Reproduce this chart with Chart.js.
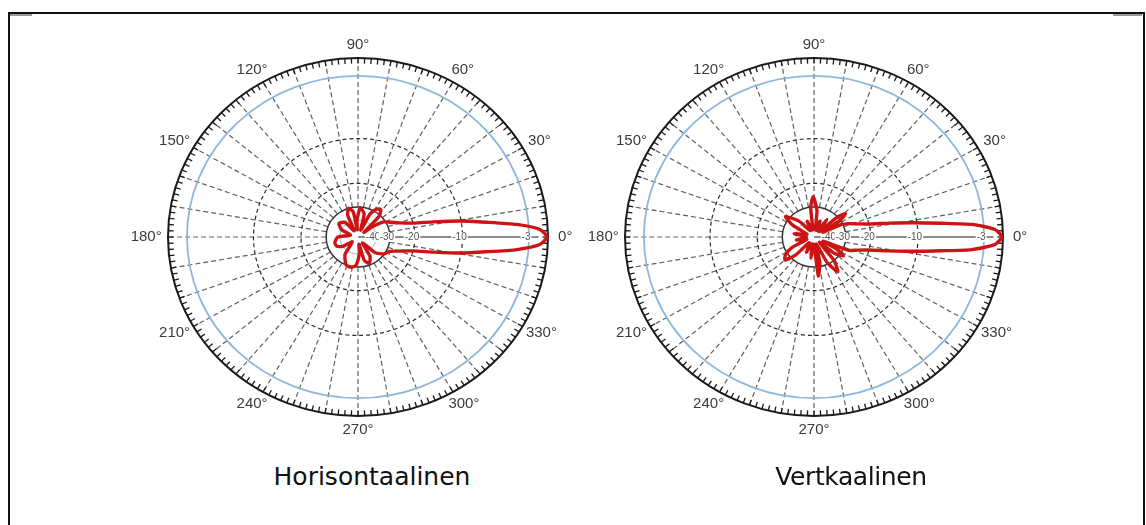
<!DOCTYPE html>
<html><head><meta charset="utf-8">
<script src="https://cdn.jsdelivr.net/npm/chart.js@4.4.1/dist/chart.umd.min.js"></script>
<style>
html,body{margin:0;padding:0;background:#fff;width:1146px;height:525px;overflow:hidden;}
body{position:relative;font-family:"DejaVu Sans",sans-serif;}
#frame{position:absolute;left:8px;top:12px;width:1133px;height:560px;border:2px solid #111;border-bottom:none;}
.corner{position:absolute;top:14px;height:2px;background:#999;}
canvas{position:absolute;}
.ttl{position:absolute;top:462px;font-size:25px;color:#111;transform:translateX(-50%);white-space:nowrap;}
</style></head><body>
<div id="frame"></div>
<div class="corner" style="left:10px;width:22px"></div>
<div class="corner" style="left:1113px;width:29px"></div>
<canvas id="c1" width="480" height="450" style="left:118px;top:12px;width:480px;height:450px"></canvas>
<canvas id="c2" width="480" height="450" style="left:574px;top:12px;width:480px;height:450px"></canvas>
<div class="ttl" style="left:372px">Horisontaalinen</div>
<div class="ttl" style="left:851px;letter-spacing:-0.4px">Vertkaalinen</div>
<script>
// ---- data ----
const chartTitles = ['Horisontaalinen', 'Vertkaalinen'];
const angleTicks = [0, 30, 60, 90, 120, 150, 180, 210, 240, 270, 300, 330];
const angleTickLabels = ['0°', '30°', '60°', '90°', '120°', '150°', '180°', '210°', '240°', '270°', '300°', '330°'];
const ringValues = [-40, -30, -20, -10, -3, 0];
const ringTickLabels = ['-40', '-30', '-20', '-10', '-3'];

// Horizontal pattern: angle (deg), level (dB)
const hAngles = [0, 2.5, 4.8, 7, 9.5, 12, 15, 20, 26, 32, 37, 40, 46, 52, 58, 64, 69, 76, 86, 93, 96, 100, 107, 114, 120, 130, 143, 155, 165, 180, 195, 205, 213, 222, 235, 248, 258, 266, 274, 278, 284, 292, 300, 306, 316, 326, 334, 340, 345, 348, 350.5, 353, 355.2, 357.5, 360];
const hDb     = [0, -1.2, -4, -7, -10.2, -15, -20, -24.5, -28, -31, -40, -55, -31, -27.5, -28.5, -33, -55, -34, -30.5, -40, -55, -33, -30, -34, -55, -38, -35, -40, -55, -38, -35, -35.5, -40, -55, -36, -30, -29.5, -31, -40, -55, -34, -31, -35, -55, -35, -30, -28.5, -24.5, -20, -15, -10.2, -7, -4, -1.2, 0];

// Vertical pattern
const vAngles = [0, 2.5, 4.8, 6.5, 8.6, 11, 14, 18, 22, 26, 30, 34, 38, 42, 47, 55, 60, 70, 78, 84, 91, 96, 100, 112, 118, 132, 143, 150, 156, 170, 178, 190, 200, 207, 214, 220, 226, 232, 245, 255, 262, 268, 276, 282, 288, 296, 303, 309, 314, 320, 326, 331, 334, 338, 342, 346, 349, 351.4, 353.5, 355.2, 357.5, 360];
const vDb     = [0, -1.2, -4, -7, -10.5, -15, -20, -24, -27, -31, -50, -30, -26, -30, -55, -36, -55, -40, -55, -32, -25, -30, -55, -40, -55, -36, -28, -35, -55, -38, -55, -40, -55, -34, -28.5, -27, -33, -55, -40, -55, -36, -55, -25.5, -32, -55, -31, -24.5, -30, -55, -33, -28, -34, -50, -27, -24, -20, -15, -10.5, -7, -4, -1.2, 0];

// radial scale: log-radius interpolated between the plotted ring levels (0 dB -> 1)
const scaleKnotDb = [-40, -30, -20, -10, -3, 0];
const scaleKnotR  = [0.095, 0.168, 0.30, 0.55, 0.90, 1.0];
function rad(db) {
  const K = scaleKnotDb, R = scaleKnotR.map(Math.log);
  if (db >= 0) return 1;
  if (db <= K[0]) return Math.exp(R[0] + (db - K[0]) * (R[1] - R[0]) / (K[1] - K[0]));
  for (let i = 0; i < K.length - 1; i++) {
    if (db >= K[i] && db <= K[i + 1]) return Math.exp(R[i] + (db - K[i]) * (R[i + 1] - R[i]) / (K[i + 1] - K[i]));
  }
  return 1;
}
function toXY(angles, dbs) {
  return angles.map((a, i) => {
    const r = rad(dbs[i]), t = a * Math.PI / 180;
    return {x: r * Math.cos(t), y: r * Math.sin(t)};
  });
}

const polarGrid = {
  id: 'polarGrid',
  beforeDatasetsDraw(chart) {
    const ctx = chart.ctx, xs = chart.scales.x, ys = chart.scales.y;
    const cx = xs.getPixelForValue(0), cy = ys.getPixelForValue(0);
    const rx = xs.getPixelForValue(1) - cx, ry = cy - ys.getPixelForValue(1);
    const P = (r, deg) => { const t = deg * Math.PI / 180; return [cx + rx * r * Math.cos(t), cy - ry * r * Math.sin(t)]; };
    const ring = (r) => { ctx.beginPath(); ctx.ellipse(cx, cy, rx * r, ry * r, 0, 0, Math.PI * 2); ctx.stroke(); };
    ctx.save();
    // spokes
    const r30 = rad(-30);
    ctx.strokeStyle = '#606060'; ctx.lineWidth = 1.2; ctx.setLineDash([5, 3]);
    for (let d = 10; d < 360; d += 10) {
      const a = P(r30, d), b = P(1, d);
      ctx.beginPath(); ctx.moveTo(a[0], a[1]); ctx.lineTo(b[0], b[1]); ctx.stroke();
    }
    // dashed rings
    ctx.strokeStyle = '#2a2a2a'; ctx.setLineDash([4, 3]);
    [-20, -10].forEach(v => ring(rad(v)));
    ctx.setLineDash([]);
    // -40 ring faint
    ctx.strokeStyle = '#aab'; ctx.lineWidth = 1;
    ring(rad(-40));
    // -30 ring solid
    ctx.strokeStyle = '#333'; ctx.lineWidth = 1.5;
    ring(r30);
    // -3 ring blue
    ctx.strokeStyle = '#8fb7de'; ctx.lineWidth = 1.8;
    ring(rad(-3));
    // outer ring with ticks
    ctx.strokeStyle = '#1a1a1a'; ctx.lineWidth = 2;
    ring(1);
    ctx.lineWidth = 1.3;
    for (let d = 0; d < 360; d += 2) {
      const t = d * Math.PI / 180;
      ctx.beginPath();
      ctx.moveTo(cx + rx * Math.cos(t), cy - ry * Math.sin(t));
      ctx.lineTo(cx + (rx - 5.5) * Math.cos(t), cy - (ry - 5.5) * Math.sin(t));
      ctx.stroke();
    }
    // 0 deg axis solid
    ctx.strokeStyle = '#666'; ctx.lineWidth = 1.5;
    ctx.beginPath(); ctx.moveTo(cx, cy); ctx.lineTo(cx + rx * 0.95, cy); ctx.stroke();
    // ring tick labels
    ctx.font = '10px "Liberation Sans", Arial, sans-serif';
    ctx.textAlign = 'center'; ctx.textBaseline = 'middle';
    ringTickLabels.forEach((lab, i) => {
      const x = cx + rx * rad(ringValues[i]) - 3;
      const w = ctx.measureText(lab).width;
      ctx.fillStyle = '#fff';
      ctx.fillRect(x - w / 2 - 1, cy - 5, w + 2, 10);
      ctx.fillStyle = '#555';
      ctx.fillText(lab, x, cy + 0.5);
    });
    // angle labels
    ctx.font = '15px "Liberation Sans", Arial, sans-serif';
    ctx.fillStyle = '#3c3c3c';
    angleTicks.forEach((d, i) => {
      const t = d * Math.PI / 180, lab = angleTickLabels[i];
      const hw = ctx.measureText(lab).width / 2;
      const x = cx + (rx * 1.07 + hw * 0.55) * Math.cos(t);
      const y = cy - (ry * 1.075) * Math.sin(t);
      ctx.fillText(lab, x, y);
    });
    ctx.restore();
  }
};

function makeChart(id, pts, rx, ry) {
  const el = document.getElementById(id);
  const a = el.width / 2 / rx, b = el.height / 2 / ry;
  return new Chart(el, {
    type: 'scatter',
    data: {datasets: [{data: pts, showLine: true, borderColor: '#cc1414', borderWidth: 3.4,
      pointRadius: 0, tension: 0.2, fill: false, clip: false}]},
    options: {
      responsive: false, animation: false, events: [],
      layout: {padding: 0},
      plugins: {legend: {display: false}, tooltip: {enabled: false}, title: {display: false}},
      scales: {x: {type: 'linear', display: false, min: -a, max: a},
               y: {type: 'linear', display: false, min: -b, max: b}}
    },
    plugins: [polarGrid]
  });
}
makeChart('c1', toXY(hAngles, hDb), 190, 179);
makeChart('c2', toXY(vAngles, vDb), 189, 179);
</script>
</body></html>
